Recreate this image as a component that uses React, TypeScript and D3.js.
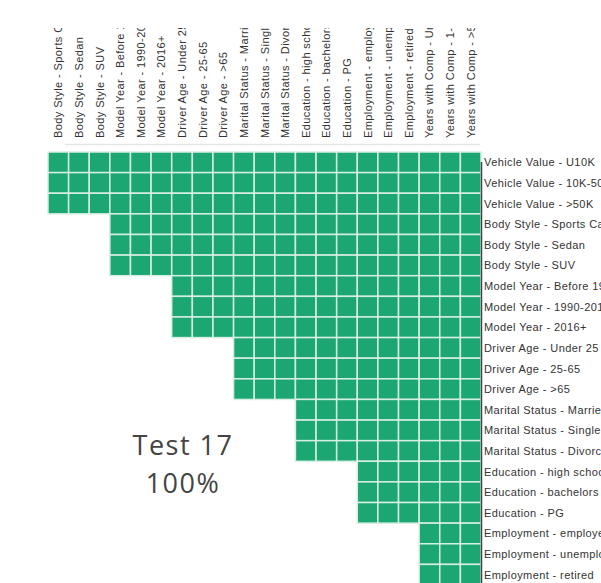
import React from "react";
import * as d3 from "d3";

const colLabels = [
  "Body Style - Sports Car", "Body Style - Sedan", "Body Style - SUV",
  "Model Year - Before 1990", "Model Year - 1990-2015", "Model Year - 2016+",
  "Driver Age - Under 25", "Driver Age - 25-65", "Driver Age - >65",
  "Marital Status - Married", "Marital Status - Single", "Marital Status - Divorced",
  "Education - high school", "Education - bachelors", "Education - PG",
  "Employment - employed", "Employment - unemployed", "Employment - retired",
  "Years with Comp - Under 1", "Years with Comp - 1-5", "Years with Comp - >5",
];

const rowLabels = [
  "Vehicle Value - U10K", "Vehicle Value - 10K-50K", "Vehicle Value - >50K",
  "Body Style - Sports Car", "Body Style - Sedan", "Body Style - SUV",
  "Model Year - Before 1990", "Model Year - 1990-2015", "Model Year - 2016+",
  "Driver Age - Under 25", "Driver Age - 25-65", "Driver Age - >65",
  "Marital Status - Married", "Marital Status - Single", "Marital Status - Divorced",
  "Education - high school", "Education - bachelors", "Education - PG",
  "Employment - employed", "Employment - unemployed", "Employment - retired",
];

const _ = null;
const values: (number | null)[][] = [
  [100,100,100,100,100,100,100,100,100,100,100,100,100,100,100,100,100,100,100,100,100],
  [100,100,100,100,100,100,100,100,100,100,100,100,100,100,100,100,100,100,100,100,100],
  [100,100,100,100,100,100,100,100,100,100,100,100,100,100,100,100,100,100,100,100,100],
  [_,_,_,100,100,100,100,100,100,100,100,100,100,100,100,100,100,100,100,100,100],
  [_,_,_,100,100,100,100,100,100,100,100,100,100,100,100,100,100,100,100,100,100],
  [_,_,_,100,100,100,100,100,100,100,100,100,100,100,100,100,100,100,100,100,100],
  [_,_,_,_,_,_,100,100,100,100,100,100,100,100,100,100,100,100,100,100,100],
  [_,_,_,_,_,_,100,100,100,100,100,100,100,100,100,100,100,100,100,100,100],
  [_,_,_,_,_,_,100,100,100,100,100,100,100,100,100,100,100,100,100,100,100],
  [_,_,_,_,_,_,_,_,_,100,100,100,100,100,100,100,100,100,100,100,100],
  [_,_,_,_,_,_,_,_,_,100,100,100,100,100,100,100,100,100,100,100,100],
  [_,_,_,_,_,_,_,_,_,100,100,100,100,100,100,100,100,100,100,100,100],
  [_,_,_,_,_,_,_,_,_,_,_,_,100,100,100,100,100,100,100,100,100],
  [_,_,_,_,_,_,_,_,_,_,_,_,100,100,100,100,100,100,100,100,100],
  [_,_,_,_,_,_,_,_,_,_,_,_,100,100,100,100,100,100,100,100,100],
  [_,_,_,_,_,_,_,_,_,_,_,_,_,_,_,100,100,100,100,100,100],
  [_,_,_,_,_,_,_,_,_,_,_,_,_,_,_,100,100,100,100,100,100],
  [_,_,_,_,_,_,_,_,_,_,_,_,_,_,_,100,100,100,100,100,100],
  [_,_,_,_,_,_,_,_,_,_,_,_,_,_,_,_,_,_,100,100,100],
  [_,_,_,_,_,_,_,_,_,_,_,_,_,_,_,_,_,_,100,100,100],
  [_,_,_,_,_,_,_,_,_,_,_,_,_,_,_,_,_,_,100,100,100],
];

const titleLines = ["Test 17", "100%"];

export default function App() {
  const W = 601, H = 583;
  const x0 = 48, x1 = 481, y0 = 152;
  const pitch = (x1 - x0) / colLabels.length;
  const x = d3.scaleBand<string>().domain(colLabels).range([x0, x1]).padding(0);
  const y = d3.scaleBand<string>().domain(rowLabels).range([y0, y0 + pitch * rowLabels.length]).padding(0);
  const color = d3.scaleLinear<string>().domain([0, 100]).range(["#ffffff", "#1ca672"]);
  const labelFont = "'Liberation Sans', Arial, sans-serif";

  return (
    <svg width={W} height={H} style={{ position: "fixed", left: 0, top: 0, background: "#fff" }}>
      <defs>
        <clipPath id="colclip"><rect x={0} y={28} width={W} height={H} /></clipPath>
        <clipPath id="rowclip"><rect x={0} y={0} width={W} height={H} /></clipPath>
      </defs>
      <g clipPath="url(#colclip)">
        {colLabels.map((c) => (
          <text key={c}
            transform={`translate(${x(c)! + x.bandwidth() / 2 + 4},138) rotate(-90)`}
            fontFamily={labelFont} fontSize={11} letterSpacing={0.4} fill="#333">{c}</text>
        ))}
      </g>
      <line x1={65} x2={480} y1={144.5} y2={144.5} stroke="#e6e6e6" strokeWidth={1.5} />
      {values.map((row, ri) =>
        row.map((v, ci) =>
          v == null ? null : (
            <rect key={`${ri}-${ci}`}
              x={x(colLabels[ci])!} y={y(rowLabels[ri])!}
              width={x.bandwidth()} height={y.bandwidth()}
              fill={color(v)} stroke="#d6efe4" strokeWidth={1.5} />
          )
        )
      )}
      <line x1={481.5} x2={481.5} y1={162} y2={H} stroke="#444" strokeWidth={1.5} />
      <g clipPath="url(#rowclip)">
        {rowLabels.map((r) => (
          <text key={r} x={484} y={y(r)! + y.bandwidth() / 2 + 4}
            fontFamily={labelFont} fontSize={11} letterSpacing={0.4} fill="#333">{r}</text>
        ))}
      </g>
      {titleLines.map((t, i) => (
        <text key={t} x={183} y={455 + i * 38} textAnchor="middle"
          fontFamily="'Open Sans', sans-serif" fontSize={27} letterSpacing={1.5} fill="#444">{t}</text>
      ))}
    </svg>
  );
}
